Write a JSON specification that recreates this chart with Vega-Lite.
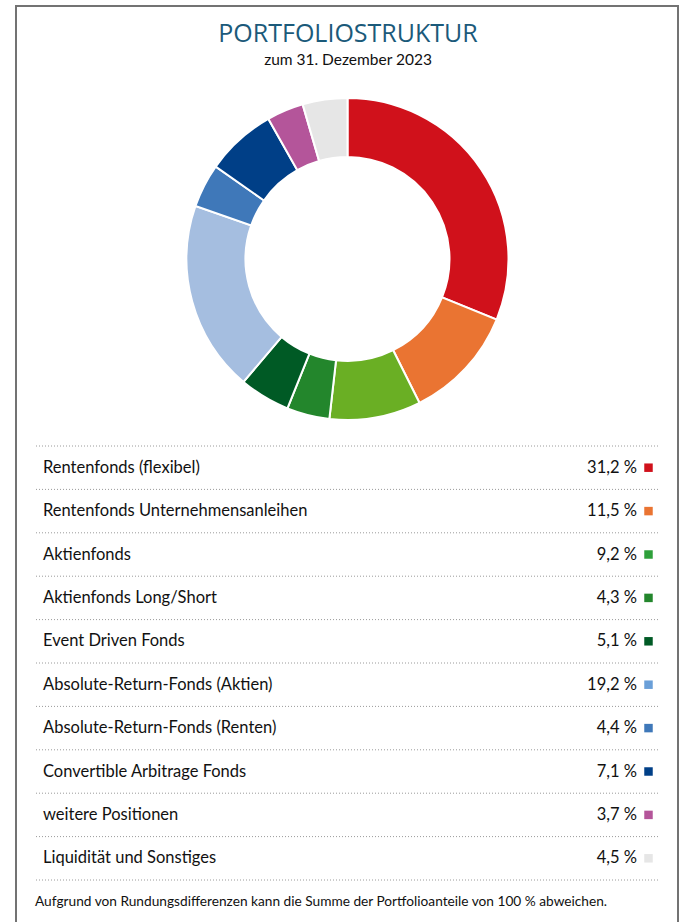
{
  "$schema": "https://vega.github.io/schema/vega-lite/v6.json",
  "width": 662,
  "height": 920,
  "padding": {"left": 16, "top": 6, "right": 6, "bottom": 0},
  "background": "white",
  "config": {
    "view": {"stroke": "#737373", "strokeWidth": 2},
    "font": "Lato",
    "locale": {
      "number": {"decimal": ",", "thousands": ".", "grouping": [3], "currency": ["", " %"]}
    }
  },
  "datasets": {
    "anteile": [
      {"nr": 1, "kategorie": "Rentenfonds (flexibel)", "anteil": 31.2},
      {"nr": 2, "kategorie": "Rentenfonds Unternehmensanleihen", "anteil": 11.5},
      {"nr": 3, "kategorie": "Aktienfonds", "anteil": 9.2},
      {"nr": 4, "kategorie": "Aktienfonds Long/Short", "anteil": 4.3},
      {"nr": 5, "kategorie": "Event Driven Fonds", "anteil": 5.1},
      {"nr": 6, "kategorie": "Absolute-Return-Fonds (Aktien)", "anteil": 19.2},
      {"nr": 7, "kategorie": "Absolute-Return-Fonds (Renten)", "anteil": 4.4},
      {"nr": 8, "kategorie": "Convertible Arbitrage Fonds", "anteil": 7.1},
      {"nr": 9, "kategorie": "weitere Positionen", "anteil": 3.7},
      {"nr": 10, "kategorie": "Liquidität und Sonstiges", "anteil": 4.5}
    ],
    "texte": [
      {"titel": "PORTFOLIOSTRUKTUR", "untertitel": "zum 31. Dezember 2023", "fussnote": "Aufgrund von Rundungsdifferenzen kann die Summe der Portfolioanteile von 100 % abweichen."}
    ]
  },
  "data": {"name": "anteile"},
  "layer": [
    {
      "data": {"name": "texte"},
      "mark": {"type": "text", "x": 332, "y": 28, "font": "Open Sans", "fontSize": 25, "fontWeight": 500, "fill": "#1B5A7A", "align": "center", "baseline": "middle"},
      "encoding": {"text": {"field": "titel", "type": "nominal"}}
    },
    {
      "data": {"name": "texte"},
      "mark": {"type": "text", "x": 332, "y": 54, "fontSize": 15.5, "fill": "#111111", "align": "center", "baseline": "middle"},
      "encoding": {"text": {"field": "untertitel", "type": "nominal"}}
    },
    {
      "mark": {"type": "arc", "x": 331.5, "y": 253, "outerRadius": 161, "innerRadius": 102, "stroke": "white", "strokeWidth": 2},
      "encoding": {
        "theta": {"field": "anteil", "type": "quantitative", "stack": true},
        "order": {"field": "nr", "type": "quantitative", "sort": "ascending"},
        "color": {"field": "kategorie", "type": "nominal", "legend": null,
          "scale": {
            "domain": ["Rentenfonds (flexibel)", "Rentenfonds Unternehmensanleihen", "Aktienfonds", "Aktienfonds Long/Short", "Event Driven Fonds", "Absolute-Return-Fonds (Aktien)", "Absolute-Return-Fonds (Renten)", "Convertible Arbitrage Fonds", "weitere Positionen", "Liquidität und Sonstiges"],
            "range": ["#D0111B", "#EA7432", "#6AAF24", "#23862C", "#005A25", "#A5BEE0", "#3F78B9", "#003F87", "#B4559A", "#E6E6E6"]
          }
        }
      }
    },
    {
      "mark": {"type": "rule", "x": 20, "x2": 644, "stroke": "#9a9a9a", "strokeWidth": 1, "strokeDash": [1, 2]},
      "encoding": {
        "y": {"field": "kategorie", "type": "nominal", "bandPosition": 0, "axis": null,
          "scale": {"type": "band", "domain": ["Rentenfonds (flexibel)", "Rentenfonds Unternehmensanleihen", "Aktienfonds", "Aktienfonds Long/Short", "Event Driven Fonds", "Absolute-Return-Fonds (Aktien)", "Absolute-Return-Fonds (Renten)", "Convertible Arbitrage Fonds", "weitere Positionen", "Liquidität und Sonstiges"], "range": [440, 874], "paddingInner": 0, "paddingOuter": 0}
        }
      }
    },
    {
      "transform": [{"filter": "datum.nr == 10"}],
      "mark": {"type": "rule", "x": 20, "x2": 644, "stroke": "#9a9a9a", "strokeWidth": 1, "strokeDash": [1, 2]},
      "encoding": {
        "y": {"field": "kategorie", "type": "nominal", "bandPosition": 1, "axis": null}
      }
    },
    {
      "mark": {"type": "text", "x": 27, "align": "left", "baseline": "middle", "fontSize": 16.5, "fill": "#111111"},
      "encoding": {
        "y": {"field": "kategorie", "type": "nominal", "axis": null},
        "text": {"field": "kategorie", "type": "nominal"}
      }
    },
    {
      "mark": {"type": "text", "x": 621, "align": "right", "baseline": "middle", "fontSize": 16.5, "fill": "#111111"},
      "encoding": {
        "y": {"field": "kategorie", "type": "nominal", "axis": null},
        "text": {"field": "anteil", "type": "quantitative", "format": "$.1f"}
      }
    },
    {
      "mark": {"type": "point", "shape": "square", "x": 632.5, "size": 72, "filled": true, "opacity": 1, "strokeWidth": 0},
      "encoding": {
        "y": {"field": "kategorie", "type": "nominal", "axis": null},
        "fill": {"field": "kategorie", "type": "nominal", "legend": null,
          "scale": {
            "domain": ["Rentenfonds (flexibel)", "Rentenfonds Unternehmensanleihen", "Aktienfonds", "Aktienfonds Long/Short", "Event Driven Fonds", "Absolute-Return-Fonds (Aktien)", "Absolute-Return-Fonds (Renten)", "Convertible Arbitrage Fonds", "weitere Positionen", "Liquidität und Sonstiges"],
            "range": ["#D0111B", "#EA7432", "#2EA03A", "#23862C", "#005A25", "#6A9FD8", "#3F78B9", "#003F87", "#B4559A", "#E6E6E6"]
          }
        }
      }
    },
    {
      "data": {"name": "texte"},
      "mark": {"type": "text", "x": 19, "y": 896, "align": "left", "baseline": "middle", "fontSize": 13.7, "fill": "#111111"},
      "encoding": {"text": {"field": "fussnote", "type": "nominal"}}
    }
  ]
}
